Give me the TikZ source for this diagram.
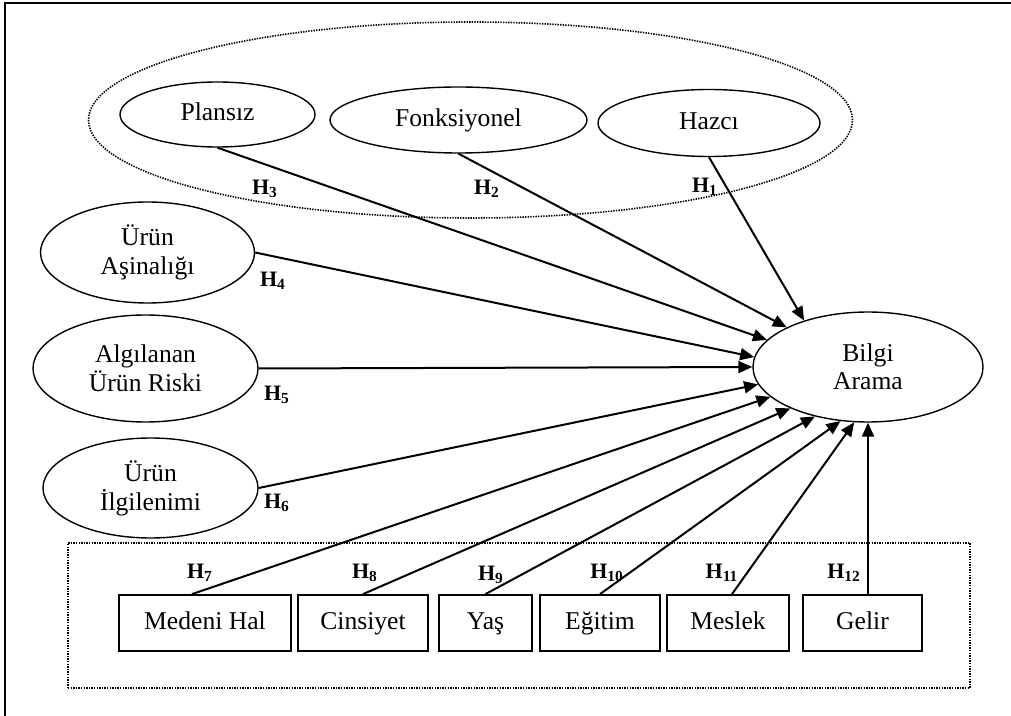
\documentclass[tikz,border=0pt]{standalone}
\usepackage{fontspec}
\setmainfont{Liberation Serif}
\usetikzlibrary{shapes.geometric,arrows.meta}

\tikzset{
  oval/.style={ellipse, draw, line width=0.7pt, inner sep=0pt, align=center,
    font=\fontsize{12.8}{14.5}\selectfont},
  oneline/.style={text height=8.8pt, text depth=2.7pt},
  varbox/.style={rectangle, draw, line width=0.9pt, inner sep=0pt, oneline,
    minimum height=28pt, font=\fontsize{12.8}{14.5}\selectfont},
  group/.style={draw, line width=0.8pt, dash pattern=on 0.7pt off 0.6pt, inner sep=0pt},
  hyp/.style={inner sep=0pt, font=\fontsize{11}{13}\selectfont\bfseries},
  link/.style={line width=1pt, -{Triangle[length=7pt,width=6pt]}}
}

\begin{document}
\begin{tikzpicture}[x=0.5pt, y=-0.5pt]
  \useasboundingbox (0,0) rectangle (1011,716);
  % frame
  \draw[line width=1pt] (5,716) -- (5,3) -- (1011,3);

  % groups
  \node[group, ellipse, minimum width=382pt, minimum height=98pt] (motiv) at (470.5,120) {};
  \node[group, rectangle, minimum width=451pt, minimum height=72.5pt] (demog) at (519,615.5) {};

  % Nodes
  \node[oval, oneline, minimum width=97.5pt, minimum height=32.5pt] (plansiz) at (217.5,114.5) {Plansız};
  \node[oval, oneline, minimum width=128.5pt, minimum height=33pt] (fonk) at (458.5,120) {Fonksiyonel};
  \node[oval, oneline, minimum width=111pt, minimum height=33.5pt] (hazci) at (709,123) {Hazcı};
  \node[oval, minimum width=107pt, minimum height=50.5pt] (asina) at (147.5,252.5) {Ürün\\Aşinalığı};
  \node[oval, minimum width=112.5pt, minimum height=53.5pt] (risk) at (145.5,368.5) {Algılanan\\Ürün Riski};
  \node[oval, minimum width=107.5pt, minimum height=50pt] (ilgi) at (150.5,488) {Ürün\\İlgilenimi};
  \node[oval, minimum width=115pt, minimum height=55pt, font=\fontsize{12.8}{14}\selectfont] (bilgi) at (868,367) {Bilgi\\Arama};

  \node[varbox, minimum width=86pt] (medeni) at (205,623) {Medeni Hal};
  \node[varbox, minimum width=65pt] (cins) at (363,623) {Cinsiyet};
  \node[varbox, minimum width=46.5pt] (yas) at (485.5,623) {Yaş};
  \node[varbox, minimum width=60pt] (egitim) at (600,623) {Eğitim};
  \node[varbox, minimum width=61pt] (meslek) at (728,623) {Meslek};
  \node[varbox, minimum width=59.5pt] (gelir) at (862.5,623) {Gelir};

  % Paths into Bilgi Arama
  \draw[link] (hazci.south) -- (bilgi.144);
  \draw[link] (fonk.south) -- (bilgi.154);
  \draw[link] (plansiz.south) -- (bilgi.165);
  \draw[link] (asina.east) -- (bilgi.175);
  \draw[link] (risk.east) -- (bilgi.180);
  \draw[link] (ilgi.east) -- (bilgi.189);
  \draw[link] ([xshift=-6.5pt]medeni.north) -- (bilgi.197);
  \draw[link] (cins.north) -- (bilgi.208);
  \draw[link] (yas.north) -- (bilgi.223);
  \draw[link] (egitim.north) -- (bilgi.243);
  \draw[link] ([xshift=2pt]meslek.north) -- (bilgi.256);
  \draw[link] (bilgi.south |- gelir.north) -- (bilgi.south);

  % Hypothesis labels
  \node[hyp] (h1) at (705,187) {H\textsubscript{1}};
  \node[hyp] (h2) at (487,189) {H\textsubscript{2}};
  \node[hyp] (h3) at (265,189) {H\textsubscript{3}};
  \node[hyp] (h4) at (273,281) {H\textsubscript{4}};
  \node[hyp] (h5) at (277,395) {H\textsubscript{5}};
  \node[hyp] (h6) at (277,503) {H\textsubscript{6}};
  \node[hyp] (h7) at (200,573) {H\textsubscript{7}};
  \node[hyp] (h8) at (365,573) {H\textsubscript{8}};
  \node[hyp] (h9) at (491,575) {H\textsubscript{9}};
  \node[hyp] (h10) at (607,573) {H\textsubscript{10}};
  \node[hyp] (h11) at (722,573) {H\textsubscript{11}};
  \node[hyp] (h12) at (844,573) {H\textsubscript{12}};
\end{tikzpicture}
\end{document}
